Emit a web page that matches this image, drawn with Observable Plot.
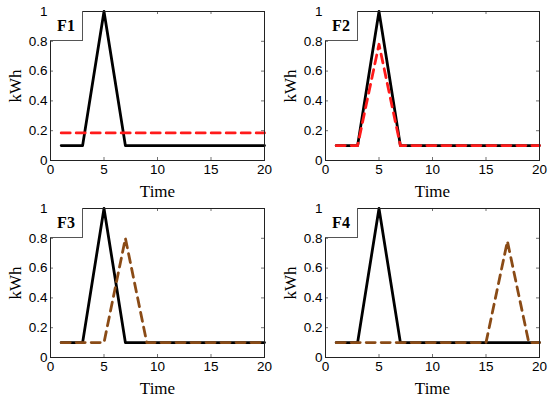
<!DOCTYPE html>
<html>
<head>
<meta charset="utf-8">
<script src="https://cdn.jsdelivr.net/npm/d3@7"></script>
<script src="https://cdn.jsdelivr.net/npm/@observablehq/plot@0.6"></script>
<style>
  html, body { margin: 0; padding: 0; background: #fff; }
  #wrap { position: relative; width: 550px; height: 397px; overflow: hidden; }
  .panel { position: absolute; width: 275px; height: 197px; }
  .panel svg { overflow: visible; }
  .tag { position: absolute; left: 50px; top: 11px; width: 33px; height: 30px; box-sizing: border-box;
         border: 1px solid #555; border-top: none; border-left: none; background: #fff;
         font-family: "Liberation Serif", "DejaVu Serif", serif; font-weight: bold; font-size: 16px;
         display: flex; align-items: center; justify-content: center; }
</style>
</head>
<body>
<div id="wrap"></div>
<script>
const time = [1, 2, 3, 4, 5, 6, 7, 8, 9, 10, 11, 12, 13, 14, 15, 16, 17, 18, 19, 20];
const original = [0.1, 0.1, 0.1, 0.55, 1.0, 0.55, 0.1, 0.1, 0.1, 0.1, 0.1, 0.1, 0.1, 0.1, 0.1, 0.1, 0.1, 0.1, 0.1, 0.1];
const f1 = [0.185, 0.185, 0.185, 0.185, 0.185, 0.185, 0.185, 0.185, 0.185, 0.185, 0.185, 0.185, 0.185, 0.185, 0.185, 0.185, 0.185, 0.185, 0.185, 0.185];
const f2 = [0.1, 0.1, 0.1, 0.44, 0.78, 0.44, 0.1, 0.1, 0.1, 0.1, 0.1, 0.1, 0.1, 0.1, 0.1, 0.1, 0.1, 0.1, 0.1, 0.1];
const f3 = [0.1, 0.1, 0.1, 0.1, 0.1, 0.45, 0.8, 0.45, 0.1, 0.1, 0.1, 0.1, 0.1, 0.1, 0.1, 0.1, 0.1, 0.1, 0.1, 0.1];
const f4 = [0.1, 0.1, 0.1, 0.1, 0.1, 0.1, 0.1, 0.1, 0.1, 0.1, 0.1, 0.1, 0.1, 0.1, 0.1, 0.44, 0.78, 0.44, 0.1, 0.1];
const panelNames = ["F1", "F2", "F3", "F4"];
const shifted = [f1, f2, f3, f4];
const shiftedColors = ["#ff1a1a", "#ff1a1a", "#8a4b16", "#8a4b16"];
const xTicks = [0, 5, 10, 15, 20];
const yTicks = [0, 0.2, 0.4, 0.6, 0.8, 1];
const yTickLabels = ["0", "0.2", "0.4", "0.6", "0.8", "1"];
const xLabel = "Time";
const yLabel = "kWh";

const W = 275, H = 197;
const mL = 50, mR = 11, mT = 11, mB = 37;
const fw = W - mL - mR, fh = H - mT - mB;
const serif = "'Liberation Serif', 'DejaVu Serif', serif";
const sans = "'Liberation Sans', Arial, sans-serif";

const wrap = document.getElementById("wrap");
panelNames.forEach((name, i) => {
  const base = time.map((t, k) => ({t, v: original[k]}));
  const alt = time.map((t, k) => ({t, v: shifted[i][k]}));
  const plot = Plot.plot({
    width: W, height: H,
    marginLeft: mL, marginRight: mR, marginTop: mT, marginBottom: mB,
    style: {background: "transparent", overflow: "visible", color: "#000"},
    x: {domain: [0, 20]},
    y: {domain: [0, 1]},
    marks: [
      Plot.axisX(xTicks, {tickSize: 0, tickPadding: 4, label: null, fontSize: 13.5, fontFamily: sans}),
      Plot.axisX({ticks: [], tickSize: 0, label: xLabel, labelAnchor: "center", labelArrow: "none", labelOffset: 36, fontSize: 17, fontFamily: serif}),
      Plot.axisY(yTicks, {tickSize: 0, tickPadding: 3, label: null, fontSize: 13.5, fontFamily: sans, tickFormat: (d, k) => yTickLabels[k]}),
      Plot.axisY({ticks: [], tickSize: 0, label: yLabel, labelAnchor: "center", labelArrow: "none", labelOffset: 42, fontSize: 17, fontFamily: serif}),
      Plot.ruleX(xTicks, {x: d => d, insetTop: fh - 3, stroke: "#333", strokeWidth: 0.7}),
      Plot.ruleX(xTicks, {x: d => d, insetBottom: fh - 3, stroke: "#333", strokeWidth: 0.7}),
      Plot.ruleY(yTicks, {y: d => d, insetRight: fw - 3, stroke: "#333", strokeWidth: 0.7}),
      Plot.ruleY(yTicks, {y: d => d, insetLeft: fw - 3, stroke: "#333", strokeWidth: 0.7}),
      Plot.line(base, {x: "t", y: "v", stroke: "#000", strokeWidth: 2.8}),
      Plot.line(alt, {x: "t", y: "v", stroke: shiftedColors[i], strokeWidth: 2.8, strokeDasharray: "9,6"}),
      Plot.frame({stroke: "#222", strokeWidth: 1})
    ]
  });
  const div = document.createElement("div");
  div.className = "panel";
  div.style.left = (i % 2) * 275 + "px";
  div.style.top = Math.floor(i / 2) * 197 + "px";
  div.appendChild(plot);
  const tag = document.createElement("div");
  tag.className = "tag";
  tag.textContent = name;
  div.appendChild(tag);
  wrap.appendChild(div);
});
</script>
</body>
</html>
